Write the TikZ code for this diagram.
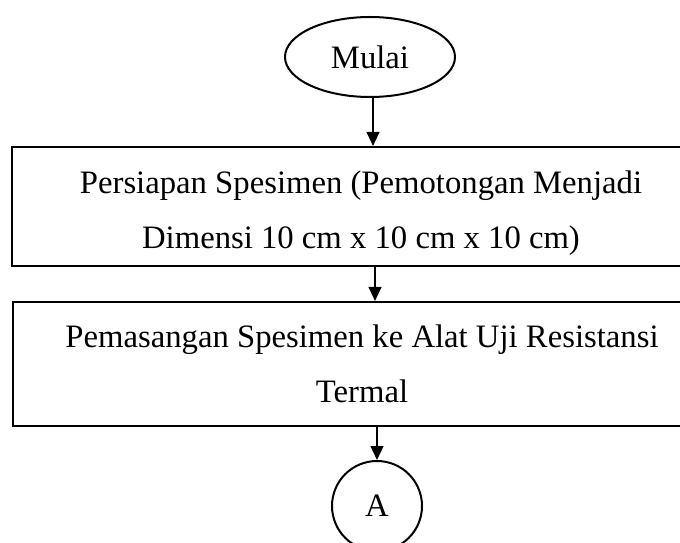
\documentclass[tikz,border=0pt]{standalone}
\usepackage{fontspec}
\setmainfont{Liberation Serif}
\usetikzlibrary{positioning,arrows.meta,shapes.geometric}

\begin{document}
\begin{tikzpicture}[x=1bp, y=-1bp, font=\fontsize{32.7bp}{55bp}\selectfont,
    >={Triangle[length=14bp, width=13bp]},
    flowbox/.style={draw, line width=2.2bp, minimum width=698bp, align=center, inner sep=0pt},
    flowline/.style={->, line width=1.3bp}]
  \useasboundingbox (0,0) rectangle (680,543);
  \node[ellipse, draw, line width=2bp, minimum width=170bp, minimum height=80bp, inner sep=0pt] (mulai) at (370,57) {Mulai};
  \node[flowbox, minimum height=119bp] (persiapan) at (361,206.5) {\rule{0pt}{36bp}Persiapan Spesimen (Pemotongan Menjadi\\Dimensi 10 cm x 10 cm x 10 cm)};
  \node[flowbox, minimum height=124bp] (pemasangan) at (362,364) {Pemasangan Spesimen ke Alat Uji Resistansi\\Termal};
  \node[circle, draw, line width=2bp, minimum size=90bp, inner sep=0pt] (konektor) at (377,506) {A};
  \coordinate (p1) at (373,0);
  \coordinate (p2) at (375,0);
  \draw[flowline] (mulai.south -| p1) -- (persiapan.north -| p1);
  \draw[flowline] (persiapan.south -| p2) -- (pemasangan.north -| p2);
  \draw[flowline] (pemasangan.south -| konektor) -- (konektor.north);
\end{tikzpicture}
\end{document}
